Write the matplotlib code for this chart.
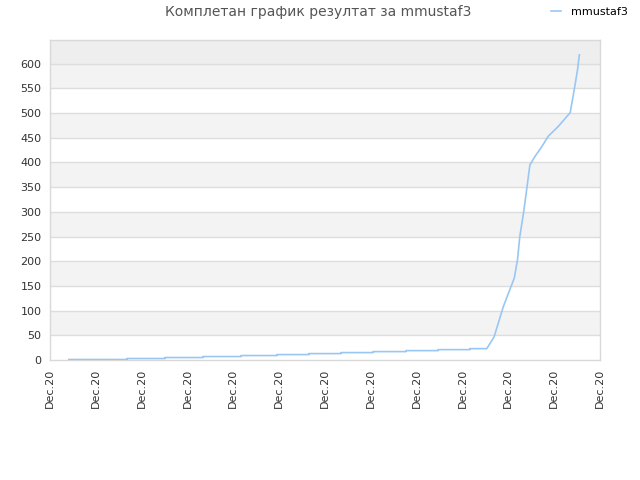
import matplotlib
matplotlib.use("Agg")
import matplotlib.pyplot as plt

title = "Комплетан график резултат за mmustaf3"
series_name = "mmustaf3"
tick_labels = ["Dec.20"] * 13
y_ticks = [0, 50, 100, 150, 200, 250, 300, 350, 400, 450, 500, 550, 600]

# x in tick units (0..12)
x_vals = [0.41, 1.68, 1.68, 2.51, 2.51, 3.34, 3.34, 4.17, 4.17, 4.95, 4.95,
          5.65, 5.65, 6.35, 6.35, 7.05, 7.05, 7.77, 7.77, 8.47, 8.47, 9.16, 9.16,
          9.53, 9.69, 9.89, 10.13, 10.20, 10.25, 10.33, 10.40, 10.47, 10.58,
          10.73, 10.87, 11.09, 11.35, 11.45, 11.51, 11.55]
y_vals = [1, 1, 3, 3, 5, 5, 7, 7, 9, 9, 11, 11, 13, 13, 15, 15, 17, 17, 19, 19,
          21, 21, 23, 23, 47, 108, 166, 203, 250, 297, 345, 395, 412,
          432, 453, 473, 501, 554, 588, 618]

plt.rcParams['font.family'] = ['DejaVu Sans']
fig = plt.figure(figsize=(6.4, 4.8), dpi=100)
ax = fig.add_axes([50/640, 120/480, 550/640, 320/480])

ymax = 648
ax.set_xlim(0, 12)
ax.set_ylim(0, ymax)

# alternating bands
for i in range(len(y_ticks) - 1):
    if i % 2 == 1:
        ax.axhspan(y_ticks[i], y_ticks[i + 1], color="#f3f3f3", zorder=0, lw=0)
ax.axhspan(y_ticks[-1], ymax, color="#eeeeee", zorder=0, lw=0)
for t in y_ticks[1:]:
    ax.axhline(t, color="#dddddd", lw=1, zorder=1)

ax.plot(x_vals, y_vals, color="#99c7f3", lw=1.2, zorder=3, label=series_name)

ax.set_yticks(y_ticks)
ax.set_yticklabels([str(v) for v in y_ticks], fontsize=8, color="#333333")
ax.set_xticks(range(13))
ax.set_xticklabels(tick_labels, rotation=90, fontsize=8, color="#333333")
ax.tick_params(axis="both", length=0, pad=6)
for s in ax.spines.values():
    s.set_color("#d9d9d9")
    s.set_linewidth(1)

fig.text(318/640, 1 - 12/480, title, ha="center", va="center", fontsize=10, color="#555555")
fig.legend(loc="center right", bbox_to_anchor=(638/640, 1 - 12/480), frameon=False,
           fontsize=8, handlelength=0.9, handletextpad=0.9)

fig.savefig("out.png", dpi=100)
